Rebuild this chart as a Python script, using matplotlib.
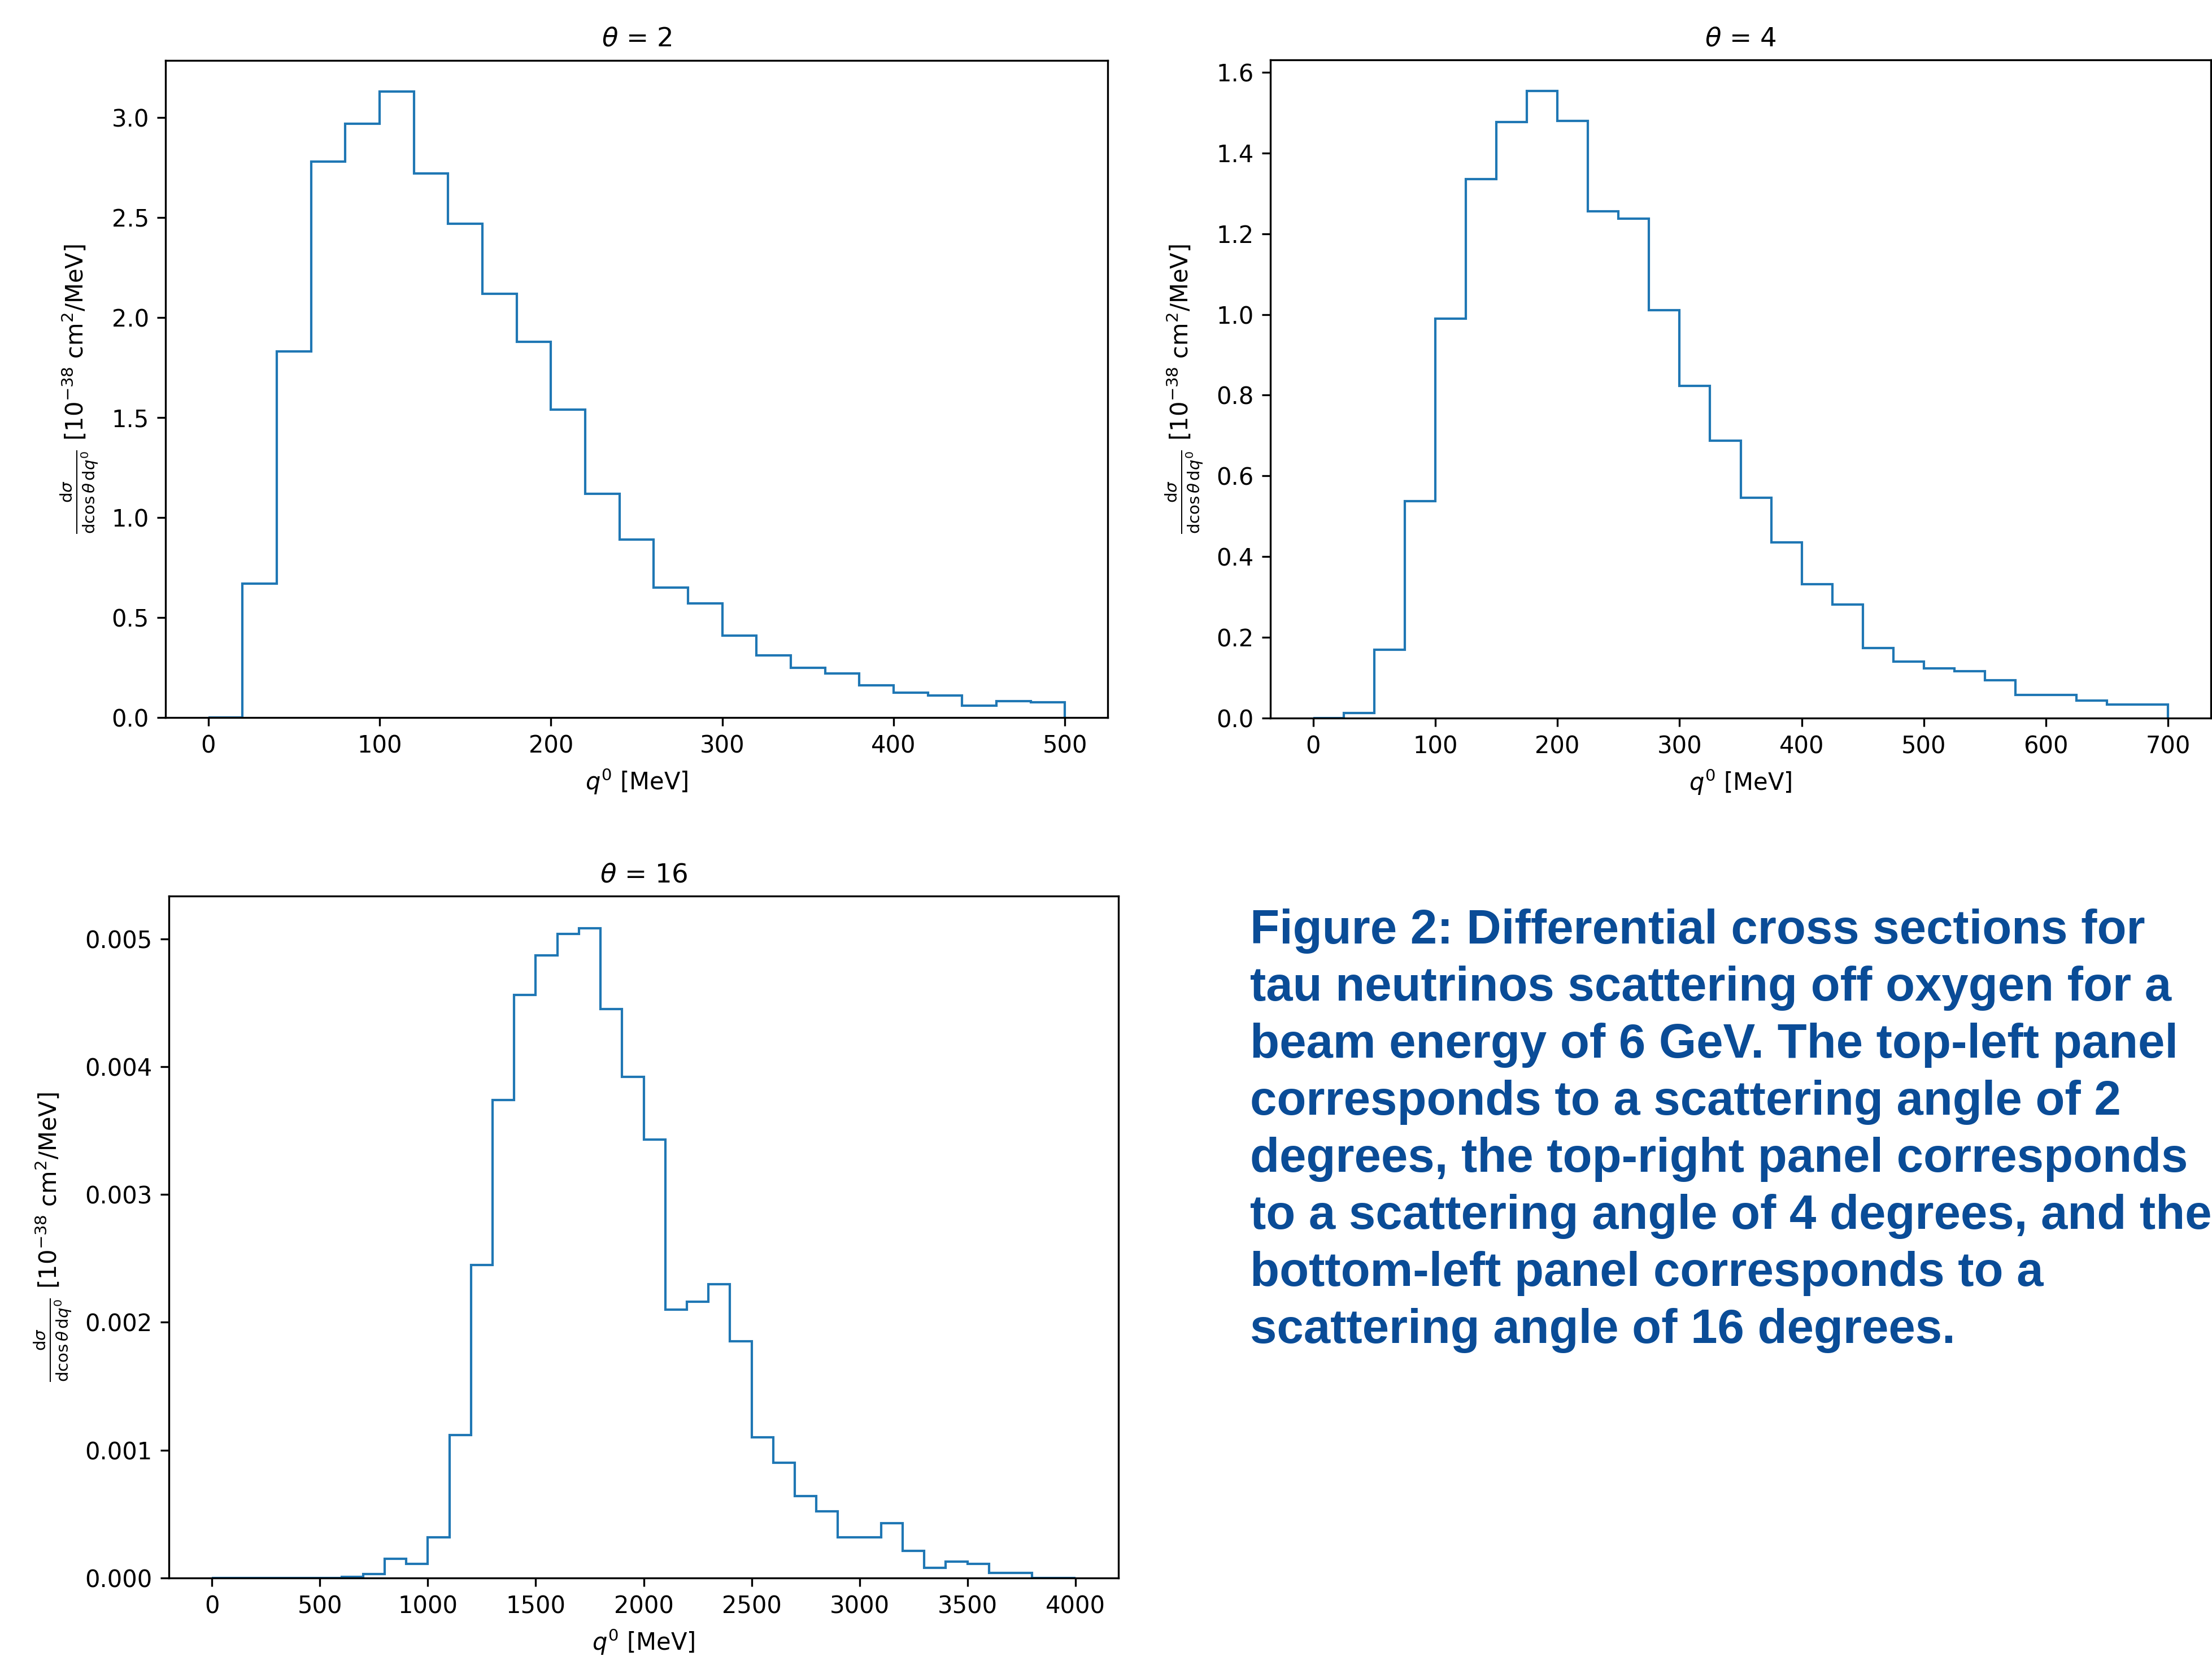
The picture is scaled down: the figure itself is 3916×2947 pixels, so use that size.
import numpy as np
import matplotlib
matplotlib.use("Agg")
import matplotlib.pyplot as plt

# theta = 2 deg, bins of 20 MeV from 0 to 500
edges_2 = np.arange(0, 501, 20)
xs_2 = [0.0, 0.67, 1.83, 2.78, 2.97, 3.13, 2.72, 2.47, 2.12, 1.88, 1.54, 1.12, 0.89,
        0.65, 0.57, 0.41, 0.31, 0.25, 0.22, 0.16, 0.125, 0.11, 0.058, 0.083, 0.075]

# theta = 4 deg, bins of 25 MeV from 0 to 700
edges_4 = np.arange(0, 701, 25)
xs_4 = [0.0, 0.012, 0.170, 0.538, 0.989, 1.336, 1.476, 1.553, 1.480, 1.255, 1.237,
        1.011, 0.823, 0.687, 0.546, 0.435, 0.332, 0.281, 0.174, 0.140, 0.123, 0.116,
        0.094, 0.057, 0.057, 0.043, 0.034, 0.034]

# theta = 16 deg, bins of 100 MeV from 0 to 4000
edges_16 = np.arange(0, 4001, 100)
xs_16 = [0, 0, 0, 0, 0, 0, 0.00001, 0.00003, 0.00015, 0.00011, 0.00032, 0.00112,
         0.00245, 0.00374, 0.00456, 0.00487, 0.00504, 0.00508, 0.00445, 0.00392,
         0.00343, 0.00210, 0.00216, 0.00230, 0.00185, 0.00110, 0.00090, 0.00064,
         0.00052, 0.00032, 0.00032, 0.00043, 0.00021, 0.00008, 0.00013, 0.00011,
         0.00004, 0.00004, 0.0, 0.0]

thetas = [2, 4, 16]

caption = ["Figure 2: Differential cross sections for",
           "tau neutrinos scattering off oxygen for a",
           "beam energy of 6 GeV. The top-left panel",
           "corresponds to a scattering angle of 2",
           "degrees, the top-right panel corresponds",
           "to a scattering angle of 4 degrees, and the",
           "bottom-left panel corresponds to a",
           "scattering angle of 16 degrees."]

W, H = 3916, 2947
fig = plt.figure(figsize=(W / 300, H / 300), dpi=300)

ylab = r'$\frac{\mathrm{d}\sigma}{\mathrm{d}\cos\theta\,\mathrm{d}q^0}$ [$10^{-38}$ cm$^2$/MeV]'

def plot_hist(rect, edges, vals, theta):
    ax = fig.add_axes(rect)
    ax.hist(edges[:-1], bins=edges, weights=vals, histtype='step')
    ax.set_title(r'$\theta$ = %d' % theta, fontsize=11.2)
    ax.set_xlabel(r'$q^0$ [MeV]')
    ax.set_ylabel(ylab, labelpad=5)
    return ax

plot_hist([293 / W, 1 - 1270 / H, 1668 / W, 1163 / H], edges_2, xs_2, thetas[0])
plot_hist([2249 / W, 1 - 1271 / H, 1665 / W, 1165 / H], edges_4, xs_4, thetas[1])
plot_hist([299 / W, 1 - 2793 / H, 1681 / W, 1207 / H], edges_16, xs_16, thetas[2])

for i, line in enumerate(caption):
    fig.text(2213 / W, 1 - (1670 + 101 * i) / H, line, fontsize=20.45,
             fontweight='bold', family='Liberation Sans', color='#0A4C97',
             va='baseline', ha='left')

fig.savefig('out.png', dpi=300)
